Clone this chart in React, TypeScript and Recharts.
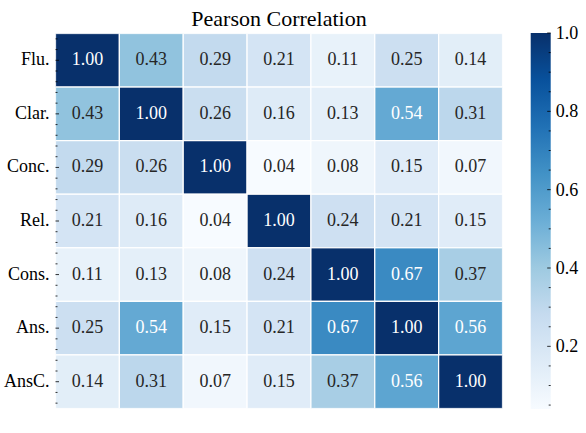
import React from 'react';
import { ScatterChart, Scatter, XAxis, YAxis, BarChart, Bar } from 'recharts';

// labels, same order on both axes
const LABELS = ['Flu.', 'Clar.', 'Conc.', 'Rel.', 'Cons.', 'Ans.', 'AnsC.'];

// correlation rows
const FLU = [1.0, 0.43, 0.29, 0.21, 0.11, 0.25, 0.14];
const CLAR = [0.43, 1.0, 0.26, 0.16, 0.13, 0.54, 0.31];
const CONC = [0.29, 0.26, 1.0, 0.04, 0.08, 0.15, 0.07];
const REL = [0.21, 0.16, 0.04, 1.0, 0.24, 0.21, 0.15];
const CONS = [0.11, 0.13, 0.08, 0.24, 1.0, 0.67, 0.37];
const ANS = [0.25, 0.54, 0.15, 0.21, 0.67, 1.0, 0.56];
const ANSC = [0.14, 0.31, 0.07, 0.15, 0.37, 0.56, 1.0];
const ROWS = [FLU, CLAR, CONC, REL, CONS, ANS, ANSC];

// colour scale limits
const VMIN = 0.04;
const VMAX = 1.0;
const CBAR_MAJOR = [0.2, 0.4, 0.6, 0.8, 1.0];
const CBAR_MINOR = [0.05, 0.1, 0.15, 0.25, 0.3, 0.35, 0.45, 0.5, 0.55, 0.65, 0.7, 0.75, 0.85, 0.9, 0.95];

const BLUES = ['#f7fbff', '#deebf7', '#c6dbef', '#9ecae1', '#6baed6', '#4292c6', '#2171b5', '#08519c', '#08306b'];

const FONT = 'Liberation Serif, Times New Roman, Tinos, DejaVu Serif, serif';
const TEXT_DARK = '#262626';

const hexToRgb = (h: string) => [1, 3, 5].map((i) => parseInt(h.slice(i, i + 2), 16));

const mix = (v: number) => {
  const t = Math.min(1, Math.max(0, (v - VMIN) / (VMAX - VMIN)));
  const pos = t * (BLUES.length - 1);
  const i = Math.min(Math.floor(pos), BLUES.length - 2);
  const f = pos - i;
  const a = hexToRgb(BLUES[i]);
  const b = hexToRgb(BLUES[i + 1]);
  return a.map((x, k) => x + (b[k] - x) * f);
};

const blues = (v: number) => {
  const c = mix(v).map(Math.round);
  return `rgb(${c[0]},${c[1]},${c[2]})`;
};

// seaborn-like choice of annotation colour
const textColor = (v: number) => {
  const lin = mix(v).map((x) => {
    const c = x / 255;
    return c <= 0.03928 ? c / 12.92 : Math.pow((c + 0.055) / 1.055, 2.4);
  });
  const lum = 0.2126 * lin[0] + 0.7152 * lin[1] + 0.0722 * lin[2];
  return lum > 0.408 ? TEXT_DARK : '#ffffff';
};

const cells = ROWS.flatMap((row, r) =>
  row.map((value, c) => ({ col: c + 0.5, row: r + 0.5, value }))
);

// chart geometry
const W = 530;
const H = 433;
const M = { top: 33.5, right: 27.5, bottom: 24.5, left: 0 };
const Y_AXIS_W = 55.5;
const PLOT_W = W - M.left - M.right - Y_AXIS_W;
const PLOT_H = H - M.top - M.bottom;
const CELL_W = PLOT_W / LABELS.length;
const CELL_H = PLOT_H / LABELS.length;

// major ticks in the cell centres, minor every 0.2
const AXIS_TICKS = Array.from({ length: 35 }, (_, k) => +(0.1 + k * 0.2).toFixed(2));
const isMajor = (v: number) => Math.abs((v % 1) - 0.5) < 1e-6;

const CellShape = (props: any) => {
  const { cx, cy, payload } = props;
  return (
    <g>
      <rect
        x={cx - CELL_W / 2}
        y={cy - CELL_H / 2}
        width={CELL_W}
        height={CELL_H}
        fill={blues(payload.value)}
        stroke="#ffffff"
        strokeWidth={1.2}
      />
      <text
        x={cx}
        y={cy}
        dy={5}
        textAnchor="middle"
        fontFamily={FONT}
        fontSize={18}
        fill={textColor(payload.value)}
      >
        {payload.value.toFixed(2)}
      </text>
    </g>
  );
};

const XTick = (props: any) => {
  const { x, y, payload, side } = props;
  const v = payload.value;
  const major = isMajor(v);
  const len = major ? 3.5 : 2;
  const dir = side === 'top' ? 1 : -1;
  return (
    <g>
      <line x1={x} y1={y} x2={x} y2={y + dir * len} stroke="#000" strokeWidth={0.8} />
      {major && side === 'bottom' && (
        <text x={x} y={y} dy={20.5} textAnchor="middle" fontFamily={FONT} fontSize={18} fill="#000">
          {LABELS[Math.floor(v)]}
        </text>
      )}
    </g>
  );
};

const YTick = (props: any) => {
  const { x, y, payload, side } = props;
  const v = payload.value;
  const major = isMajor(v);
  const len = major ? 3.5 : 2;
  const dir = side === 'right' ? -1 : 1;
  return (
    <g>
      <line x1={x} y1={y} x2={x + dir * len} y2={y} stroke="#000" strokeWidth={0.8} />
      {major && side === 'left' && (
        <text x={x} y={y} dx={-6} dy={5} textAnchor="end" fontFamily={FONT} fontSize={18} fill="#000">
          {LABELS[Math.floor(v)]}
        </text>
      )}
    </g>
  );
};

const CbarTick = (props: any) => {
  const { x, y, payload } = props;
  const v = payload.value;
  const major = CBAR_MAJOR.some((m) => Math.abs(m - v) < 1e-6);
  const len = major ? 3.5 : 2;
  return (
    <g>
      <line x1={x} y1={y} x2={x - len} y2={y} stroke="#000" strokeWidth={0.8} />
      {major && (
        <text x={x} y={y} dx={5} dy={6} textAnchor="start" fontFamily={FONT} fontSize={18} fill="#000">
          {v.toFixed(1)}
        </text>
      )}
    </g>
  );
};

const cbarData = [{ name: 'cbar', range: [VMIN, VMAX] }];
const CBAR_TICKS = [...CBAR_MINOR, ...CBAR_MAJOR].sort((a, b) => a - b);

export default function App() {
  return (
    <div
      style={{
        position: 'absolute',
        left: 0,
        top: 0,
        width: 586,
        height: 433,
        background: '#ffffff',
        fontFamily: FONT,
      }}
    >
      <svg width={586} height={34} style={{ position: 'absolute', left: 0, top: 0 }}>
        <text
          x={Y_AXIS_W + PLOT_W / 2}
          y={26}
          textAnchor="middle"
          fontFamily={FONT}
          fontSize={22}
          fill="#000"
        >
          Pearson Correlation
        </text>
      </svg>

      <div style={{ position: 'absolute', left: 0, top: 0 }}>
        <ScatterChart width={W} height={H} margin={M}>
          <XAxis
            xAxisId="b"
            type="number"
            dataKey="col"
            domain={[0, 7]}
            ticks={AXIS_TICKS}
            interval={0}
            height={0}
            tickSize={0}
            tickMargin={0}
            axisLine={false}
            tickLine={false}
            tick={(p: any) => <XTick {...p} side="bottom" />}
            allowDataOverflow
          />
          <XAxis
            xAxisId="t"
            orientation="top"
            type="number"
            dataKey="col"
            domain={[0, 7]}
            ticks={AXIS_TICKS}
            interval={0}
            height={0}
            tickSize={0}
            tickMargin={0}
            axisLine={false}
            tickLine={false}
            tick={(p: any) => <XTick {...p} side="top" />}
            allowDataOverflow
          />
          <YAxis
            yAxisId="l"
            type="number"
            dataKey="row"
            domain={[0, 7]}
            reversed
            ticks={AXIS_TICKS}
            interval={0}
            width={Y_AXIS_W}
            tickSize={0}
            tickMargin={0}
            axisLine={false}
            tickLine={false}
            tick={(p: any) => <YTick {...p} side="left" />}
            allowDataOverflow
          />
          <YAxis
            yAxisId="r"
            orientation="right"
            type="number"
            dataKey="row"
            domain={[0, 7]}
            reversed
            ticks={AXIS_TICKS}
            interval={0}
            width={0}
            tickSize={0}
            tickMargin={0}
            axisLine={false}
            tickLine={false}
            tick={(p: any) => <YTick {...p} side="right" />}
            allowDataOverflow
          />
          <Scatter
            data={cells}
            xAxisId="b"
            yAxisId="l"
            shape={CellShape}
            isAnimationActive={false}
          />
          <Scatter data={[]} xAxisId="t" yAxisId="r" isAnimationActive={false} />
        </ScatterChart>
      </div>

      <div style={{ position: 'absolute', left: 520, top: 0 }}>
        <BarChart
          width={66}
          height={H}
          data={cbarData}
          margin={{ top: 33, right: 0, bottom: 24, left: 10.7 }}
          barCategoryGap={0}
        >
          <defs>
            <linearGradient id="bluesGrad" x1="0" y1="1" x2="0" y2="0">
              {BLUES.map((c, i) => (
                <stop key={c} offset={i / (BLUES.length - 1)} stopColor={c} />
              ))}
            </linearGradient>
          </defs>
          <XAxis dataKey="name" hide />
          <YAxis
            orientation="right"
            type="number"
            domain={[VMIN, VMAX]}
            ticks={CBAR_TICKS}
            interval={0}
            width={35.3}
            tickSize={0}
            tickMargin={0}
            axisLine={false}
            tickLine={false}
            tick={CbarTick}
            allowDataOverflow
          />
          <Bar dataKey="range" fill="url(#bluesGrad)" isAnimationActive={false} />
        </BarChart>
      </div>
    </div>
  );
}
